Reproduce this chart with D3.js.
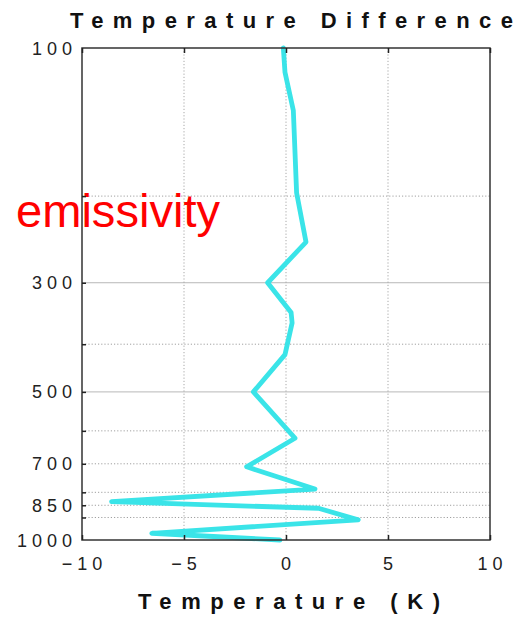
<!DOCTYPE html>
<html>
<head>
<meta charset="utf-8">
<script src="https://cdn.jsdelivr.net/npm/d3@7"></script>
<style>
  html, body { margin: 0; padding: 0; background: #fff; }
  svg { display: block; }
  text { font-family: "Liberation Sans", Arial, Helvetica, sans-serif; }
</style>
</head>
<body>
<svg id="chart" width="518" height="618"></svg>
<script>
// ---- data ----
const pressureLevels = [100, 112, 134, 197, 248, 300, 345, 362, 420, 500, 621, 710, 788, 836, 862, 910, 969, 1000];
const tempDiff      = [-0.13, -0.05, 0.36, 0.52, 0.98, -0.9, 0.25, 0.3, -0.05, -1.6, 0.44, -1.93, 1.42, -8.55, 1.59, 3.54, -6.58, -0.3];
const xTicks = [-10, -5, 0, 5, 10];
const yLabelTicks = [100, 300, 500, 700, 850, 1000];
const yGridLevels = [200, 300, 400, 500, 600, 700, 800, 850, 900];
const ySolidGrid = [300, 500];
const titleText = "Temperature Difference";
const xTitleText = "Temperature (K)";
const annotationText = "emissivity";

// ---- layout ----
const pL = 82, pR = 490, pT = 48, pB = 540;
const svg = d3.select("#chart");

const x = d3.scaleLinear().domain([-10, 10]).range([pL, pR]);
const y = d3.scaleLog().domain([100, 1000]).range([pT, pB]);

// gridlines
const grid = svg.append("g");
grid.selectAll("line.h").data(yGridLevels).join("line")
  .attr("x1", pL).attr("x2", pR)
  .attr("y1", d => y(d)).attr("y2", d => y(d))
  .attr("stroke", d => ySolidGrid.includes(d) ? "#b8b8b8" : "#a0a0a0")
  .attr("stroke-width", 1)
  .attr("stroke-dasharray", d => ySolidGrid.includes(d) ? null : "1.2,2");
grid.selectAll("line.v").data(xTicks.slice(1, -1)).join("line")
  .attr("x1", d => x(d)).attr("x2", d => x(d))
  .attr("y1", pT).attr("y2", pB)
  .attr("stroke", "#a8a8a8").attr("stroke-width", 1)
  .attr("stroke-dasharray", "1.2,2");

// annotation (under the axis frame)
svg.append("text")
  .attr("x", 16).attr("y", 227)
  .attr("fill", "#ff0000")
  .attr("font-size", 46)
  .attr("textLength", 204).attr("lengthAdjust", "spacingAndGlyphs")
  .text(annotationText);

// data line
const line = d3.line()
  .x((d, i) => x(tempDiff[i]))
  .y(d => y(d));
svg.append("path")
  .datum(pressureLevels)
  .attr("d", line)
  .attr("fill", "none")
  .attr("stroke", "#3ae4e8")
  .attr("stroke-width", 4.8)
  .attr("stroke-linejoin", "round")
  .attr("stroke-linecap", "round");

// frame
svg.append("rect")
  .attr("x", pL).attr("y", pT)
  .attr("width", pR - pL).attr("height", pB - pT)
  .attr("fill", "none").attr("stroke", "#333").attr("stroke-width", 1.5);

// x ticks (inward, top & bottom)
const gxB = svg.append("g").attr("transform", `translate(0,${pB})`)
  .call(d3.axisBottom(x).tickValues(xTicks).tickSize(-5).tickFormat(""));
const gxT = svg.append("g").attr("transform", `translate(0,${pT})`)
  .call(d3.axisTop(x).tickValues(xTicks).tickSize(-5).tickFormat(""));
[gxB, gxT].forEach(g => { g.select(".domain").remove(); g.selectAll("line").attr("stroke", "#222").attr("stroke-width", 1.5); });

// y ticks (inward, left)
const gyL = svg.append("g").attr("transform", `translate(${pL},0)`)
  .call(d3.axisLeft(y).tickValues(yGridLevels).tickSize(-4).tickFormat(""));
gyL.select(".domain").remove();
gyL.selectAll("line").attr("stroke", "#222").attr("stroke-width", 1.5);

// tick labels
svg.append("g").selectAll("text").data(xTicks).join("text")
  .attr("x", d => x(d) + 2.5).attr("y", 570)
  .attr("text-anchor", "middle")
  .attr("font-size", 18).attr("letter-spacing", 5).attr("fill", "#222")
  .text(d => d < 0 ? "\u2212" + Math.abs(d) : d);

svg.append("g").selectAll("text").data(yLabelTicks).join("text")
  .attr("x", 77).attr("y", d => y(d) + 6.5)
  .attr("text-anchor", "end")
  .attr("font-size", 18).attr("letter-spacing", 5).attr("fill", "#222")
  .text(d => d);

// titles
svg.append("text")
  .attr("x", 70).attr("y", 28)
  .attr("font-size", 22).attr("font-weight", "bold").attr("fill", "#111")
  .attr("textLength", 443).attr("lengthAdjust", "spacing")
  .text(titleText);

svg.append("text")
  .attr("x", 138).attr("y", 609)
  .attr("font-size", 22).attr("font-weight", "bold").attr("fill", "#111")
  .attr("textLength", 302).attr("lengthAdjust", "spacing")
  .text(xTitleText);
</script>
</body>
</html>
